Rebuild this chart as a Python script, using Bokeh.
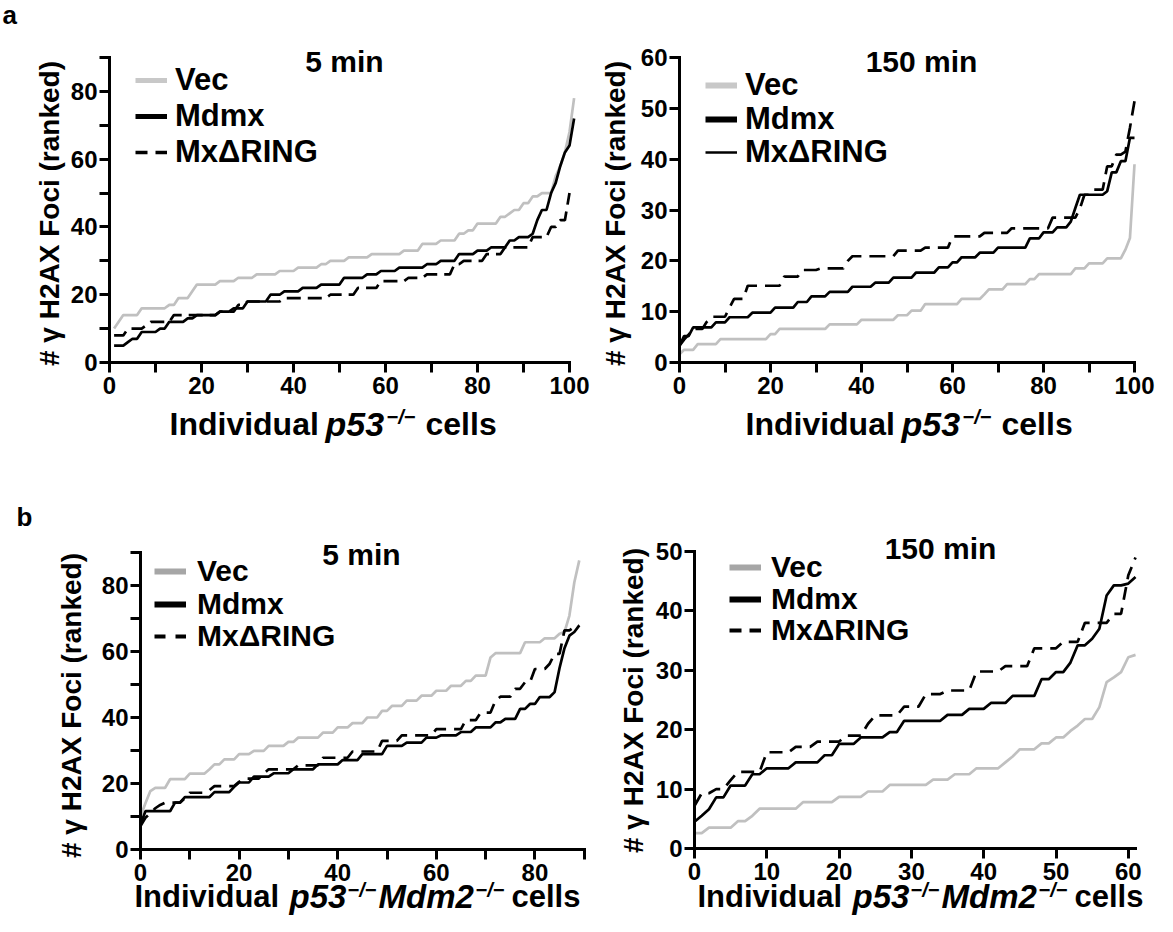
import numpy as np
from bokeh.plotting import figure
from bokeh.models import Label, Legend, LegendItem, FixedTicker, Range1d
from bokeh.layouts import row, column
from bokeh.embed import file_html
from bokeh.resources import INLINE

# ---------------- data (ranked gamma-H2AX foci per cell) ----------------
# each curve: distinct foci counts (ascending) and number of cells having that count
# panel a, 5 min, p53-/- cells (ranks 1..)
a5_vec_foci = [10, 12, 14, 16, 17, 19, 21, 23, 24, 25, 26, 27, 28, 29, 30, 31, 32, 33, 35, 36,
               38, 39, 41, 43, 44, 45, 47, 49, 50, 55, 58, 62, 68, 78]
a5_vec_cells = [1, 1, 4, 6, 2, 3, 1, 5, 4, 4, 5, 4, 5, 2, 4, 5, 7, 4, 4, 4,
                2, 2, 5, 2, 1, 2, 2, 2, 3, 1, 1, 1, 1, 1]
a5_mdmx_foci = [5, 6, 7, 9, 10, 12, 13, 14, 15, 16, 18, 20, 21, 22, 23, 25, 26, 27, 28, 29,
                30, 32, 33, 34, 36, 37, 38, 42, 45, 50, 53, 58, 62, 64, 72]
a5_mdmx_cells = [3, 1, 2, 4, 2, 4, 2, 5, 3, 3, 5, 3, 4, 4, 5, 5, 3, 4, 6, 3,
                 4, 4, 3, 4, 2, 3, 1, 1, 2, 1, 1, 1, 1, 1, 1]
a5_dring_foci = [8, 10, 11, 12, 14, 15, 17, 18, 19, 20, 22, 24, 25, 26, 29, 30, 32, 34, 37, 40, 42, 50]
a5_dring_cells = [3, 4, 1, 5, 10, 4, 2, 8, 10, 6, 5, 6, 4, 6, 2, 5, 4, 6, 4, 2, 2, 1]

# panel a, 150 min, p53-/- cells (ranks 0..)
a150_vec_foci = [1.6, 2.5, 3.6, 4.6, 5.6, 6.6, 7.5, 8.4, 9.3, 10.2, 11.5, 12.5, 13.4, 14.4, 15.4,
                 16.4, 17.4, 18.5, 19.5, 20.5, 22.2, 24.5, 39]
a150_vec_cells = [1, 3, 5, 11, 2, 11, 7, 8, 3, 3, 8, 5, 1, 4, 5, 2, 8, 3, 4, 4, 1, 1, 1]
a150_mdmx_foci = [3.3, 5.2, 6.9, 7.9, 8.9, 9.8, 10.8, 11.9, 13, 13.9, 14.9, 15.7, 16.7, 17.7, 18.7,
                  19.7, 20.7, 21.6, 22.6, 24.4, 25.6, 26.6, 27.7, 30.4, 33, 33.7, 37.4, 39.6, 44.2]
a150_mdmx_cells = [1, 2, 5, 3, 5, 5, 5, 3, 4, 5, 5, 4, 5, 5, 3, 2, 4, 4, 7, 3, 3, 3, 1, 1, 6, 1, 2, 2, 2]
a150_dring_foci = [3.3, 4.5, 5.5, 6.6, 8, 9, 10.8, 12.5, 15.1, 16.9, 18.2, 18.5, 20, 20.9, 22, 22.6,
                   24.8, 25.5, 26.4, 28.5, 30.3, 33, 34, 38.6, 40.9, 41.5, 46.2, 51.4]
a150_dring_cells = [1, 1, 1, 3, 1, 4, 1, 3, 8, 4, 4, 6, 1, 10, 6, 6, 7, 6, 9, 6, 1, 2, 3, 2, 2, 1, 1, 1]

# panel b, 5 min, p53-/-Mdm2-/- cells (ranks 0..)
b5_vec_foci = [10, 14, 17.7, 18.7, 21.3, 23, 24.3, 25.8, 27.3, 28.9, 29.9, 31.4, 32.6, 33.9, 35.4, 37,
               38.3, 40, 42, 43.5, 45.1, 46.6, 48.1, 49.6, 51.1, 52.7, 58.2, 59.5, 62.8, 64, 65.4,
               65.9, 70.9, 81, 87.6]
b5_vec_cells = [1, 1, 1, 3, 4, 4, 1, 2, 3, 3, 3, 4, 2, 5, 3, 3, 3, 3, 2, 3, 3, 3, 3, 3, 2, 3, 1, 6,
                4, 3, 1, 1, 1, 1, 1]
b5_mdmx_foci = [7.6, 11.6, 14.2, 15.9, 17.4, 19, 20.3, 22.1, 23.1, 24.3, 25.8, 27.1, 28.9, 31.4, 32.4,
                33.9, 34.6, 35.6, 37, 38.5, 39.6, 42.6, 44.1, 46.2, 47.7, 55, 61, 64.8, 65.9, 67.9]
b5_mdmx_cells = [1, 6, 2, 6, 4, 1, 3, 4, 4, 5, 5, 4, 5, 4, 4, 3, 4, 3, 4, 2, 3, 2, 2, 3, 1, 1, 1, 1, 1, 1]
b5_dring_foci = [7.1, 9.6, 11, 12.5, 13.5, 14.2, 15.5, 17.2, 18, 19.2, 20.5, 21.5, 23, 24.3, 25.5, 27.8,
                 29.7, 32.9, 34.6, 36.5, 39.2, 41.5, 45.1, 46.3, 48.7, 50.7, 54.7, 56.3, 59.3, 66.4,
                 67.4, 67.9]
b5_dring_cells = [1, 1, 1, 1, 1, 4, 1, 4, 1, 5, 1, 4, 1, 6, 5, 6, 6, 4, 7, 6, 3, 3, 1, 3, 2, 2, 3, 1,
                  2, 2, 1, 1]

# panel b, 150 min, p53-/-Mdm2-/- cells (ranks 0..)
b150_vec_foci = [2.6, 3.5, 4.6, 5.5, 6.7, 7.8, 8.7, 9.6, 10.7, 11.6, 12.5, 13.5, 14.5, 15.5, 16.7, 17.7,
                 18.7, 19.8, 20.7, 21.8, 23.8, 28, 28.8, 29.7, 32.2, 32.6]
b150_vec_cells = [2, 4, 2, 1, 6, 5, 4, 3, 6, 3, 3, 4, 1, 1, 3, 2, 2, 1, 1, 2, 1, 1, 1, 1, 1, 1]
b150_mdmx_foci = [4.5, 5.5, 6.6, 8.6, 10.6, 12.5, 13.5, 14.5, 15.7, 17.6, 18.7, 19.6, 21.5, 22.5, 23.5,
                  24.5, 25.7, 28.5, 29.7, 31.3, 34.2, 35.3, 37, 42.6, 44.3, 44.6, 45.7]
b150_mdmx_cells = [1, 1, 1, 2, 3, 2, 4, 4, 2, 3, 4, 2, 6, 3, 3, 3, 4, 2, 2, 1, 2, 1, 1, 1, 2, 1, 1]
b150_dring_foci = [7.2, 9.3, 10, 11.5, 12.9, 16.2, 17.1, 18, 19, 21, 22.4, 23.9, 26, 26.6, 29.8, 30.7,
                   33.7, 34.8, 38, 39.5, 46, 49]
b150_dring_cells = [1, 2, 2, 1, 4, 4, 3, 4, 3, 1, 4, 3, 3, 4, 4, 4, 4, 3, 4, 2, 1, 1]

series_names = ["Vec", "Mdmx", "Mx\u0394RING"]

# ---------------- styling ----------------
FONT = "Liberation Sans"
GRAY = "#c0c0c0"
BLACK = "#000000"
SUP = "\u2212/\u2212"


def ranked(foci, cells, first_rank):
    y = np.repeat(np.asarray(foci, dtype=float), cells)
    x = np.arange(len(y)) + first_rank
    return x, y


class Panel:
    """A figure whose plotting frame covers the whole figure; axes are pinned at 0."""

    def __init__(self, box, origin, scale, x_bound, y_bound, xt, xm, yt, ym):
        fx, fy, fw, fh = box
        ox, oy = origin
        sx, sy = scale
        self.box = box
        xr = Range1d((fx - ox) / sx, (fx + fw - ox) / sx)
        yr = Range1d((oy - (fy + fh)) / sy, (oy - fy) / sy)
        p = figure(width=fw, height=fh, x_range=xr, y_range=yr, output_backend="svg",
                   toolbar_location=None, title=None, min_border=0)
        p.outline_line_color = None
        p.xgrid.visible = False
        p.ygrid.visible = False
        for ax, ticks, minor, bound in ((p.xaxis[0], xt, xm, x_bound), (p.yaxis[0], yt, ym, y_bound)):
            ax.fixed_location = 0
            ax.ticker = FixedTicker(ticks=ticks, minor_ticks=minor)
            ax.bounds = (0, bound)
            ax.axis_line_width = 3
            ax.axis_line_color = BLACK
            ax.axis_line_cap = "square"
            ax.major_tick_line_width = 3
            ax.major_tick_line_color = BLACK
            ax.major_tick_out = 10
            ax.major_tick_in = 0
            ax.minor_tick_line_width = 3
            ax.minor_tick_line_color = BLACK
            ax.minor_tick_out = 10
            ax.minor_tick_in = 0
            ax.major_label_text_font = FONT
            ax.major_label_text_font_style = "bold"
            ax.major_label_text_font_size = "24px"
            ax.major_label_text_color = BLACK
        p.xaxis[0].major_label_standoff = 4
        p.yaxis[0].major_label_standoff = 2
        self.p = p

    def sx(self, page_x):
        return page_x - self.box[0]

    def sy(self, page_y):
        return self.box[1] + self.box[3] - page_y

    def text(self, text, page_x, page_y, size, style="bold", align="left", angle=0.0):
        # page_y is the vertical middle of the text line
        self.p.add_layout(Label(x=self.sx(page_x), y=self.sy(page_y), x_units="screen", y_units="screen",
                                text=text, text_font=FONT, text_font_size=f"{size}px",
                                text_font_style=style, text_align=align, text_baseline="middle",
                                angle=angle, text_color=BLACK))

    def xlabel(self, pieces, mid_y, main, ital, sup):
        for txt, px, kind in pieces:
            if kind == "n":
                self.text(txt, px, mid_y, main)
            elif kind == "i":
                self.text(txt, px, mid_y, ital, style="bold italic")
            else:
                self.text(txt, px, mid_y - 7, sup, style="bold italic")

    def series(self, curves, first_rank, dash, legend_spec):
        (vf, vc), (mf, mc), (df, dc) = curves
        p = self.p
        xv, yv = ranked(vf, vc, first_rank)
        xm_, ym_ = ranked(mf, mc, first_rank)
        xd, yd = ranked(df, dc, first_rank)
        p.line(xv, yv, line_color=GRAY, line_width=2.7)
        p.line(xd, yd, line_color=BLACK, line_width=2.7, line_dash=dash)
        p.line(xm_, ym_, line_color=BLACK, line_width=2.7)
        # legend keys (hidden renderers carrying the key style)
        page_x, rows, size, standoff, styles = legend_spec
        for name, (xx, yy), row_y, (color, width, ldash) in zip(series_names, [(xv, yv), (xm_, ym_), (xd, yd)],
                                                                  rows, styles):
            r = p.line(xx, yy, line_color=color, line_width=width, line_dash=ldash)
            r.visible = False
            lg = Legend(items=[LegendItem(label=name, renderers=[r])],
                        location=(self.sx(page_x), self.sy(row_y + 18)),
                        background_fill_alpha=0, border_line_color=None, padding=0, margin=0, spacing=0,
                        glyph_width=32, glyph_height=36, label_height=36, label_standoff=standoff,
                        label_text_font=FONT, label_text_font_style="bold",
                        label_text_font_size=f"{size}px", label_text_color=BLACK,
                        inactive_fill_alpha=0)
            p.add_layout(lg)


YLAB = "# \u03b3 H2AX Foci (ranked)"

# ---------- panel a, 5 min ----------
A1 = Panel((8, 8, 592, 462), (117, 370), (4.6, 305 / 90), 100, 90,
           list(range(0, 101, 20)), list(range(10, 100, 20)),
           list(range(0, 81, 20)), list(range(10, 91, 20)))
A1.series([(a5_vec_foci, a5_vec_cells), (a5_mdmx_foci, a5_mdmx_cells), (a5_dring_foci, a5_dring_cells)],
          1, "14 7",
          (143, (88, 124, 160), 31, 8,
           [("#c8c8c8", 5, "solid"), (BLACK, 5, "solid"), (BLACK, 3.5, "12 8")]))
A1.text("5 min", 352, 69, 30, align="center")
A1.text("a", 10, 22, 26)
A1.text(YLAB, 57, 221, 28, align="center", angle=np.pi / 2)
A1.xlabel([("Individual", 177, "n"), ("p53", 333, "i"), (SUP, 394, "s"), ("cells", 433, "n")],
          431, 32, 34, 20)

# ---------- panel a, 150 min ----------
A2 = Panel((600, 8, 565, 462), (687, 370), (4.55, 305 / 60), 100, 60,
           list(range(0, 101, 20)), list(range(10, 100, 20)),
           list(range(0, 61, 10)), [])
A2.series([(a150_vec_foci, a150_vec_cells), (a150_mdmx_foci, a150_mdmx_cells),
           (a150_dring_foci, a150_dring_cells)],
          0, "16 8",
          (713, (93, 127, 160), 31, 8,
           [("#c8c8c8", 6, "solid"), (BLACK, 6, "solid"), (BLACK, 2.5, "solid")]))
A2.text("150 min", 929, 69, 30, align="center")
A2.text(YLAB, 623, 221, 28, align="center", angle=np.pi / 2)
A2.xlabel([("Individual", 753, "n"), ("p53", 909, "i"), (SUP, 970, "s"), ("cells", 1009, "n")],
          431, 32, 34, 20)

# ---------- panel b, 5 min ----------
B1 = Panel((8, 470, 592, 454), (148, 857), (4.93, 297 / 90), 90, 90,
           list(range(0, 81, 20)), list(range(10, 91, 20)),
           list(range(0, 81, 20)), list(range(10, 91, 20)))
B1.series([(b5_vec_foci, b5_vec_cells), (b5_mdmx_foci, b5_mdmx_cells), (b5_dring_foci, b5_dring_cells)],
          0, "13 8",
          (162, (579, 612, 644), 30, 11,
           [("#a6a6a6", 6, "solid"), (BLACK, 6, "solid"), (BLACK, 4, "11 10")]))
B1.text("5 min", 369, 562, 30, align="center")
B1.text("b", 24, 524, 26)
B1.text(YLAB, 79, 713, 28, align="center", angle=np.pi / 2)
B1.xlabel([("Individual", 142, "n"), ("p53", 297, "i"), (SUP, 355, "s"), ("Mdm2", 386, "i"),
           (SUP, 483, "s"), ("cells", 519, "n")],
          904, 31, 33, 20)

# ---------- panel b, 150 min ----------
B2 = Panel((600, 470, 565, 454), (702, 856), (7.23, 297 / 50), 61, 50,
           list(range(0, 61, 10)), [],
           list(range(0, 51, 10)), [])
B2.series([(b150_vec_foci, b150_vec_cells), (b150_mdmx_foci, b150_mdmx_cells),
           (b150_dring_foci, b150_dring_cells)],
          0, "13 8",
          (737, (575, 607, 638), 30, 10,
           [("#a6a6a6", 6, "solid"), (BLACK, 6, "solid"), (BLACK, 4, "12 8")]))
B2.text("150 min", 948, 556, 30, align="center")
B2.text(YLAB, 641, 708, 28, align="center", angle=np.pi / 2)
B2.xlabel([("Individual", 705, "n"), ("p53", 860, "i"), (SUP, 918, "s"), ("Mdm2", 949, "i"),
           (SUP, 1046, "s"), ("cells", 1082, "n")],
          904, 31, 33, 20)

layout = column(row(A1.p, A2.p), row(B1.p, B2.p))
open("out.html", "w").write(file_html(layout, INLINE))
